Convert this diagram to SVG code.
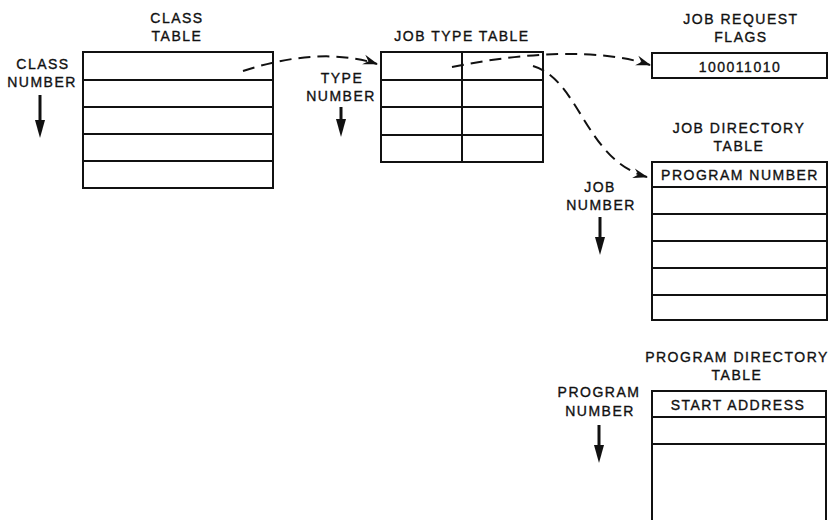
<svg xmlns="http://www.w3.org/2000/svg" width="832" height="520" viewBox="0 0 832 520">
<defs>
<style>
text{font-family:"Liberation Sans",Arial,sans-serif;font-size:14px;letter-spacing:1.5px;fill:#111;stroke:#111;stroke-width:0.35;text-anchor:middle}
.tb{fill:none;stroke:#111;stroke-width:2}
.ln{stroke:#111;stroke-width:2}
.dash{fill:none;stroke:#111;stroke-width:2;stroke-dasharray:12 7}
.down{stroke:#111;stroke-width:3}
</style>
<marker id="ah" markerUnits="userSpaceOnUse" markerWidth="16" markerHeight="12" viewBox="0 0 16 12" refX="14" refY="6" orient="auto">
<path d="M0,1 L15,6 L0,11 L5,6 Z" fill="#111"/>
</marker>
<marker id="dn" markerUnits="userSpaceOnUse" markerWidth="12" markerHeight="18" viewBox="0 0 12 18" refX="6" refY="2" orient="0">
<path d="M1,0 L11,0 L6,18 Z" fill="#111"/>
</marker>
</defs>

<g id="class-table">
<text x="177" y="23">CLASS</text>
<text x="177" y="41">TABLE</text>
<rect class="tb" x="83" y="52" width="190" height="136"/>
<path class="ln" d="M83,80H273M83,107H273M83,134H273M83,161H273"/>
</g>
<g id="class-number">
<text x="43" y="69">CLASS</text>
<text x="42" y="87">NUMBER</text>
<line class="down" x1="40" y1="95" x2="40" y2="122" marker-end="url(#dn)"/>
</g>

<g id="job-type-table">
<text x="462" y="41">JOB TYPE TABLE</text>
<rect class="tb" x="381" y="52" width="162" height="110"/>
<path class="ln" d="M381,80H543M381,107H543M381,135H543M462,52V162"/>
</g>
<g id="type-number">
<text x="342" y="83">TYPE</text>
<text x="341" y="101">NUMBER</text>
<line class="down" x1="341" y1="107" x2="341" y2="121" marker-end="url(#dn)"/>
</g>

<g id="job-request-flags">
<text x="741" y="24">JOB REQUEST</text>
<text x="741" y="42">FLAGS</text>
<rect class="tb" x="652" y="53" width="175" height="25"/>
<text x="740" y="72">100011010</text>
</g>

<g id="job-directory-table">
<text x="739" y="133">JOB DIRECTORY</text>
<text x="739" y="151">TABLE</text>
<rect class="tb" x="652" y="162" width="175" height="158"/>
<path class="ln" d="M652,187H827M652,214H827M652,241H827M652,268H827M652,295H827"/>
<text x="740" y="180">PROGRAM NUMBER</text>
</g>
<g id="job-number">
<text x="600" y="192">JOB</text>
<text x="601" y="210">NUMBER</text>
<line class="down" x1="600" y1="217" x2="600" y2="239" marker-end="url(#dn)"/>
</g>

<g id="program-directory-table">
<text x="737" y="362">PROGRAM DIRECTORY</text>
<text x="737" y="380">TABLE</text>
<path class="tb" d="M652,530V391H826V530"/>
<path class="ln" d="M652,417H826M652,444H826"/>
<text x="738" y="410">START ADDRESS</text>
</g>
<g id="program-number">
<text x="599" y="397">PROGRAM</text>
<text x="600" y="416">NUMBER</text>
<line class="down" x1="599" y1="425" x2="599" y2="447" marker-end="url(#dn)"/>
</g>

<g id="connectors">
<path class="dash" d="M243,71 C285,57 335,50 377,64" marker-end="url(#ah)"/>
<path class="dash" d="M452,67 C525,52 600,48 650,65" marker-end="url(#ah)"/>
<path class="dash" d="M533,66 C580,80 585,160 647,177" marker-end="url(#ah)"/>
</g>
</svg>
